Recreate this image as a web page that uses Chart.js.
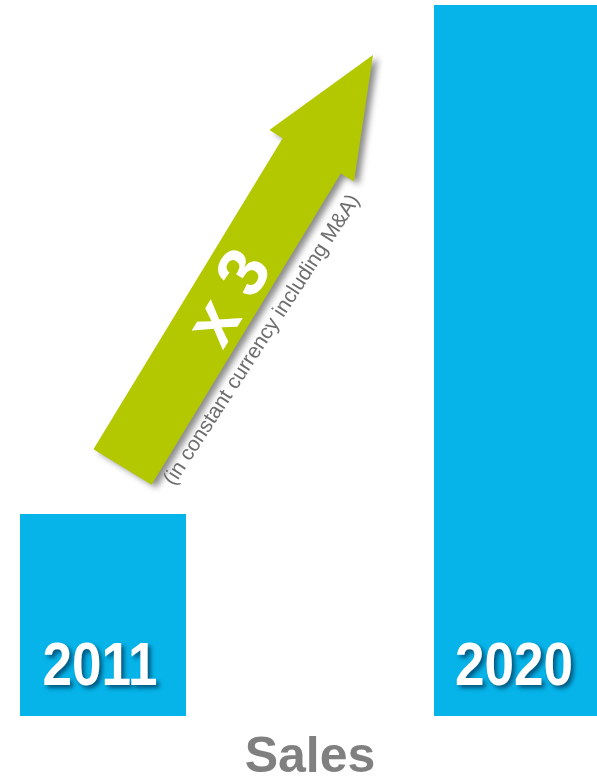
<!DOCTYPE html>
<html>
<head>
<meta charset="utf-8">
<script src="https://cdn.jsdelivr.net/npm/chart.js@4/dist/chart.umd.min.js"></script>
<style>
  html, body { margin: 0; padding: 0; background: #ffffff; overflow: hidden; width: 597px; height: 780px; }
  #wrap { position: absolute; left: -104px; top: 0; width: 828px; height: 780px; }
</style>
</head>
<body>
<div id="wrap"><canvas id="c" width="828" height="780"></canvas></div>
<script>
// Sales, indexed to 2011 = 100
const years = ['2011', '2020'];
const salesIndex = [100, 352];
const growthLabel = 'x 3';
const growthNote = '(in constant currency including M&A)';
const axisTitle = 'Sales';

const FONT = "'Liberation Sans', Arial, Helvetica, sans-serif";
const BAR_BLUE = '#06B4E9';
const ARROW_GREEN = '#B4C800';

// Year labels written inside the foot of each bar
const yearLabels = {
  id: 'yearLabels',
  afterDatasetsDraw(chart) {
    const ctx = chart.ctx;
    const meta = chart.getDatasetMeta(0);
    const bottom = chart.chartArea.bottom;
    meta.data.forEach((bar, i) => {
      ctx.save();
      ctx.translate(bar.x - 3, bottom - 31);
      ctx.scale(0.87, 1);
      ctx.font = 'bold 61px ' + FONT;
      ctx.textAlign = 'center';
      ctx.textBaseline = 'alphabetic';
      ctx.shadowColor = 'rgba(0, 45, 80, 0.7)';
      ctx.shadowOffsetX = 3;
      ctx.shadowOffsetY = 3;
      ctx.shadowBlur = 4;
      ctx.fillStyle = '#ffffff';
      ctx.fillText(years[i], 0, 0);
      ctx.restore();
    });
  }
};

// Growth arrow running from the first bar towards the top of the second
const growthArrow = {
  id: 'growthArrow',
  afterDatasetsDraw(chart) {
    const ctx = chart.ctx;
    const meta = chart.getDatasetMeta(0);
    const b0 = meta.data[0], b1 = meta.data[1];
    const base = { x: b0.x + 19.5, y: b0.y - 47 };
    const tip = { x: b1.x - 144, y: b1.y + 50 };
    const dx = tip.x - base.x, dy = tip.y - base.y;
    const len = Math.hypot(dx, dy);
    const ux = dx / len, uy = dy / len;      // along the arrow
    const nx = -uy, ny = ux;                 // across, towards lower right
    const shaftHalf = 34, headHalf = 49.5, headLen = 118;
    const hb = len - headLen;
    const P = (a, c) => [base.x + ux * a + nx * c, base.y + uy * a + ny * c];
    const pts = [
      P(0, -shaftHalf), P(hb, -shaftHalf), P(hb, -headHalf), P(len, 0),
      P(hb, headHalf), P(hb, shaftHalf), P(0, shaftHalf)
    ];
    ctx.save();
    ctx.beginPath();
    pts.forEach((p, i) => i ? ctx.lineTo(p[0], p[1]) : ctx.moveTo(p[0], p[1]));
    ctx.closePath();
    ctx.shadowColor = 'rgba(0, 0, 0, 0.45)';
    ctx.shadowOffsetX = 5;
    ctx.shadowOffsetY = 3;
    ctx.shadowBlur = 6;
    ctx.fillStyle = ARROW_GREEN;
    ctx.fill();
    ctx.restore();

    const ang = Math.atan2(uy, ux);

    // multiplier written along the shaft
    ctx.save();
    const m = P(200, 6);
    ctx.translate(m[0], m[1]);
    ctx.rotate(ang);
    ctx.font = 'bold 70px ' + FONT;
    ctx.textAlign = 'center';
    ctx.textBaseline = 'middle';
    ctx.fillStyle = '#ffffff';
    ctx.fillText(growthLabel, 0, 0);
    ctx.restore();

    // note alongside the lower edge of the shaft
    ctx.save();
    const s = P(10, 54);
    ctx.translate(s[0], s[1]);
    ctx.rotate(ang + 0.03);
    ctx.font = '21px ' + FONT;
    ctx.textAlign = 'left';
    ctx.textBaseline = 'alphabetic';
    ctx.fillStyle = '#6e6e6e';
    ctx.fillText(growthNote, 0, 0);
    ctx.restore();
  }
};

new Chart(document.getElementById('c'), {
  type: 'bar',
  data: {
    labels: years,
    datasets: [{
      data: salesIndex,
      backgroundColor: BAR_BLUE,
      borderWidth: 0,
      barPercentage: 0.401,
      categoryPercentage: 1.0
    }]
  },
  options: {
    responsive: false,
    animation: false,
    devicePixelRatio: 1,
    layout: { padding: { top: 5, left: 0, right: 0, bottom: 0 } },
    plugins: { legend: { display: false }, tooltip: { enabled: false }, title: { display: false } },
    scales: {
      x: {
        grid: { display: false },
        border: { display: false },
        ticks: { display: false },
        title: {
          display: true,
          text: axisTitle,
          color: '#808080',
          font: { family: FONT, weight: 'bold', size: 50, lineHeight: 0.88 },
          padding: { top: 12, bottom: 0 }
        }
      },
      y: { display: false, min: 0, max: 352 }
    }
  },
  plugins: [growthArrow, yearLabels]
});
</script>
</body>
</html>
